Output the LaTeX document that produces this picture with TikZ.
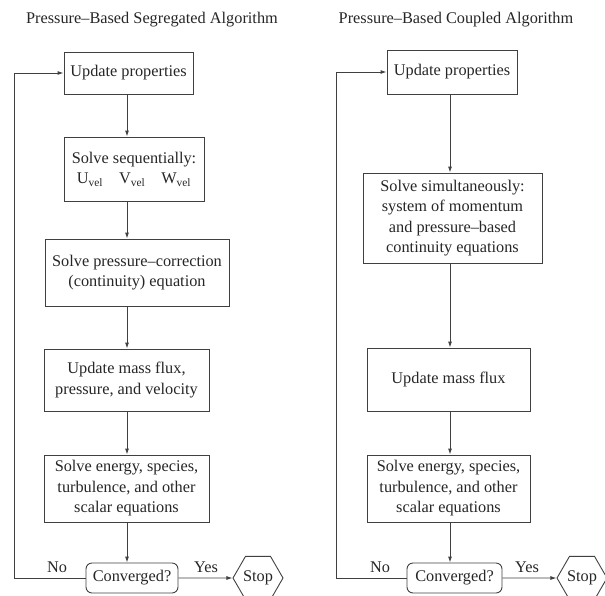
\documentclass[tikz,border=0pt]{standalone}
\usepackage{fontspec}
\setmainfont{Liberation Serif}
\usetikzlibrary{shapes.geometric,arrows.meta}
\begin{document}
\begin{tikzpicture}[x=1pt,y=-1pt,
  every node/.style={font=\fontsize{16.3}{20.5}\selectfont, text=black!85},
  box/.style={draw=black!75, line width=0.9pt, align=center, inner sep=0pt},
  conv/.style={draw=black!75, line width=0.9pt, rounded corners=6pt, inner sep=0pt, minimum height=30pt},
  stopbox/.style={draw=black!75, line width=0.9pt, regular polygon, regular polygon sides=6, minimum size=50pt, inner sep=0pt},
  flow/.style={draw=black!75, line width=0.9pt, -{Latex[length=6pt,width=4pt]}}]
\useasboundingbox (0,0) rectangle (605,595);

% ---------- left: segregated ----------
\node (tL) at (152,20) {Pressure--Based Segregated Algorithm};
\coordinate (cl) at (127,0);
\coordinate (fl) at (14,0);

\node[box, minimum width=129pt, minimum height=42pt] (b1) at (128.5,73) {Update properties};
\node[box, minimum width=140pt, minimum height=64pt] (b2) at (134,169)
  {Solve sequentially:\\U\textsubscript{vel}\hspace{16pt}V\textsubscript{vel}\hspace{16pt}W\textsubscript{vel}};
\node[box, minimum width=184pt, minimum height=67pt] (b3) at (137,272.5)
  {Solve pressure--correction\\(continuity) equation};
\node[box, minimum width=165pt, minimum height=62pt] (b4) at (126.5,380)
  {Update mass flux,\\pressure, and velocity};
\node[box, minimum width=165pt, minimum height=67pt] (b5) at (126.5,488.5)
  {Solve energy, species,\\turbulence, and other\\scalar equations};
\node[conv, minimum width=92pt] (c1) at (132,578) {Converged?};
\node[stopbox] (s1) at (258,578) {Stop};
\node (noL) at (57,567) {No};
\node (yesL) at (206,567) {Yes};

\draw[flow] (b1.south -| cl) -- (b2.north -| cl);
\draw[flow] (b2.south -| cl) -- (b3.north -| cl);
\draw[flow] (b3.south -| cl) -- (b4.north -| cl);
\draw[flow] (b4.south -| cl) -- (b5.north -| cl);
\draw[flow] (b5.south -| cl) -- (c1.north -| cl);
\draw[flow] (c1.east) -- (s1.west);
\draw[flow] (c1.west) -- (c1.west -| fl) -- (b1.west -| fl) -- (b1.west);

% ---------- right: coupled ----------
\node (tR) at (456,20) {Pressure--Based Coupled Algorithm};
\coordinate (cr) at (450,0);
\coordinate (fr) at (336,0);

\node[box, minimum width=130pt, minimum height=44pt] (r1) at (452,72) {Update properties};
\node[box, minimum width=179pt, minimum height=90pt] (r2) at (452.5,218)
  {Solve simultaneously:\\system of momentum\\and pressure--based\\continuity equations};
\node[box, minimum width=163pt, minimum height=63pt] (r3) at (448.5,379.5) {Update mass flux};
\node[box, minimum width=163pt, minimum height=67pt] (r4) at (448.5,488.5)
  {Solve energy, species,\\turbulence, and other\\scalar equations};
\node[conv, minimum width=95pt] (c2) at (454.5,578) {Converged?};
\node[stopbox] (s2) at (582,578) {Stop};
\node (noR) at (380,567) {No};
\node (yesR) at (527,567) {Yes};

\draw[flow] (r1.south -| cr) -- (r2.north -| cr);
\draw[flow] (r2.south -| cr) -- (r3.north -| cr);
\draw[flow] (r3.south -| cr) -- (r4.north -| cr);
\draw[flow] (r4.south -| cr) -- (c2.north -| cr);
\draw[flow] (c2.east) -- (s2.west);
\draw[flow] (c2.west) -- (c2.west -| fr) -- (r1.west -| fr) -- (r1.west);
\end{tikzpicture}
\end{document}
